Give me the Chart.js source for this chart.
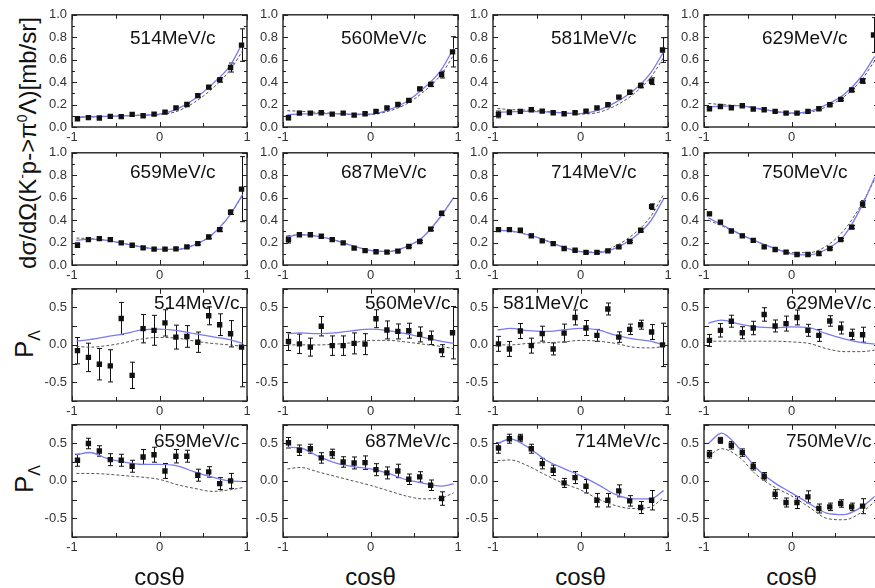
<!DOCTYPE html>
<html>
<head>
<meta charset="utf-8">
<script src="https://cdn.jsdelivr.net/npm/chart.js@4.4.0/dist/chart.umd.min.js"></script>
<style>
  body { margin: 0; width: 875px; height: 588px; overflow: hidden; background: #fff; position: relative;
         font-family: "Liberation Sans", Arial, sans-serif; color: #111; }
  canvas { position: absolute; }
  .vtitle { position: absolute; width: 300px; height: 30px; line-height: 30px; text-align: center;
            font-size: 24px; white-space: nowrap; transform: rotate(-90deg); }
  .vtitle sup { font-size: 14px; vertical-align: 0; position: relative; top: -9px; }
  .ptitle { position: absolute; width: 80px; height: 34px; line-height: 34px; text-align: center;
            font-size: 26px; white-space: nowrap; transform: rotate(-90deg); }
  .ptitle sub { font-size: 16px; vertical-align: 0; position: relative; top: 7px; }
  .xtitle { position: absolute; width: 100px; text-align: center; font-size: 24px; line-height: 28px; }
</style>
</head>
<body>

<div class="vtitle" style="left:-122px; top:128px;">dσ/dΩ(K<sup>-</sup>p-&gt;π<sup>0</sup>Λ)[mb/sr]</div>
<div class="ptitle" style="left:-16px; top:327px;">P<sub>Λ</sub></div>
<div class="ptitle" style="left:-16px; top:462px;">P<sub>Λ</sub></div>

<script>
// bin centres in cos(theta)
const cosBins = [-0.9375, -0.8125, -0.6875, -0.5625, -0.4375, -0.3125, -0.1875, -0.0625,
                 0.0625, 0.1875, 0.3125, 0.4375, 0.5625, 0.6875, 0.8125, 0.9375];
// x grid where the model curves were read
const curveX = [-0.95, -0.8, -0.6, -0.4, -0.2, 0, 0.2, 0.4, 0.6, 0.8, 0.95];
const momenta = ['514MeV/c', '560MeV/c', '581MeV/c', '629MeV/c', '659MeV/c', '687MeV/c', '714MeV/c', '750MeV/c'];

// differential cross section [mb/sr]
const dsigData = [
  [0.074, 0.083, 0.080, 0.095, 0.092, 0.112, 0.100, 0.115, 0.133, 0.170, 0.200, 0.280, 0.355, 0.420, 0.530, 0.730],
  [0.083, 0.124, 0.124, 0.127, 0.115, 0.124, 0.106, 0.118, 0.139, 0.170, 0.200, 0.237, 0.340, 0.380, 0.467, 0.670],
  [0.112, 0.130, 0.139, 0.154, 0.142, 0.127, 0.118, 0.127, 0.142, 0.170, 0.198, 0.266, 0.310, 0.370, 0.408, 0.686],
  [0.163, 0.183, 0.172, 0.189, 0.160, 0.154, 0.139, 0.124, 0.124, 0.139, 0.163, 0.198, 0.246, 0.330, 0.410, 0.820],
  [0.176, 0.226, 0.235, 0.226, 0.197, 0.176, 0.153, 0.141, 0.141, 0.144, 0.162, 0.190, 0.250, 0.315, 0.470, 0.676],
  [0.226, 0.270, 0.270, 0.256, 0.226, 0.197, 0.150, 0.128, 0.118, 0.115, 0.124, 0.165, 0.210, 0.320, 0.460, null],
  [0.315, 0.315, 0.310, 0.260, 0.215, 0.190, 0.147, 0.132, 0.112, 0.112, 0.126, 0.162, 0.210, 0.310, 0.520, null],
  [0.456, 0.382, 0.303, 0.260, 0.220, 0.162, 0.138, 0.115, 0.094, 0.094, 0.103, 0.147, 0.226, 0.338, 0.544, null]
];
const dsigErr = [
  [0.015, 0.01, 0.01, 0.01, 0.01, 0.01, 0.01, 0.01, 0.01, 0.01, 0.012, 0.015, 0.015, 0.02, 0.04, 0.145],
  [0.02, 0.01, 0.01, 0.01, 0.01, 0.01, 0.01, 0.01, 0.01, 0.01, 0.01, 0.012, 0.015, 0.02, 0.03, 0.135],
  [0.03, 0.02, 0.01, 0.01, 0.01, 0.01, 0.01, 0.01, 0.01, 0.01, 0.01, 0.01, 0.012, 0.02, 0.03, 0.11],
  [0.015, 0.01, 0.015, 0.01, 0.01, 0.01, 0.01, 0.01, 0.01, 0.01, 0.01, 0.01, 0.01, 0.015, 0.02, 0.155],
  [0.02, 0.015, 0.01, 0.01, 0.01, 0.01, 0.01, 0.01, 0.01, 0.01, 0.01, 0.01, 0.015, 0.015, 0.02, 0.29],
  [0.03, 0.015, 0.01, 0.015, 0.01, 0.01, 0.01, 0.01, 0.01, 0.01, 0.01, 0.01, 0.01, 0.015, 0.02, null],
  [0.015, 0.01, 0.01, 0.015, 0.01, 0.01, 0.01, 0.01, 0.01, 0.01, 0.01, 0.01, 0.01, 0.015, 0.025, null],
  [0.015, 0.015, 0.01, 0.015, 0.015, 0.01, 0.01, 0.01, 0.01, 0.01, 0.015, 0.01, 0.01, 0.015, 0.03, null]
];
const dsigFit = [
  [0.085, 0.09, 0.095, 0.10, 0.105, 0.115, 0.16, 0.25, 0.38, 0.54, 0.75],
  [0.11, 0.115, 0.12, 0.12, 0.115, 0.115, 0.15, 0.22, 0.34, 0.50, 0.70],
  [0.13, 0.135, 0.14, 0.135, 0.125, 0.12, 0.15, 0.22, 0.32, 0.48, 0.67],
  [0.18, 0.185, 0.19, 0.165, 0.14, 0.125, 0.14, 0.20, 0.29, 0.45, 0.63],
  [0.22, 0.23, 0.22, 0.19, 0.16, 0.14, 0.14, 0.18, 0.27, 0.44, 0.63],
  [0.25, 0.27, 0.255, 0.22, 0.17, 0.13, 0.12, 0.16, 0.25, 0.43, 0.60],
  [0.31, 0.305, 0.27, 0.22, 0.16, 0.12, 0.11, 0.15, 0.24, 0.39, 0.59],
  [0.42, 0.36, 0.28, 0.21, 0.15, 0.10, 0.09, 0.14, 0.26, 0.52, 0.78]
];
const dsigOld = [
  [0.09, 0.09, 0.095, 0.10, 0.105, 0.11, 0.14, 0.22, 0.34, 0.50, 0.68],
  [0.145, 0.14, 0.13, 0.12, 0.11, 0.11, 0.14, 0.20, 0.31, 0.46, 0.64],
  [0.165, 0.155, 0.15, 0.14, 0.125, 0.115, 0.13, 0.19, 0.29, 0.44, 0.62],
  [0.21, 0.20, 0.19, 0.17, 0.14, 0.12, 0.13, 0.18, 0.27, 0.42, 0.59],
  [0.24, 0.235, 0.22, 0.19, 0.16, 0.14, 0.14, 0.18, 0.27, 0.44, 0.62],
  [0.26, 0.27, 0.255, 0.22, 0.17, 0.13, 0.12, 0.16, 0.25, 0.43, 0.60],
  [0.31, 0.30, 0.27, 0.22, 0.16, 0.12, 0.115, 0.17, 0.27, 0.43, 0.63],
  [0.40, 0.35, 0.28, 0.21, 0.15, 0.11, 0.11, 0.17, 0.31, 0.54, 0.76]
];

// Lambda polarisation
const polData = [
  [-0.077, -0.167, -0.258, -0.280, 0.353, -0.407, 0.217, 0.195, 0.294, 0.104, 0.113, 0.036, 0.389, 0.270, 0.149, -0.030],
  [0.045, 0.014, -0.030, 0.250, -0.010, -0.010, 0.020, 0.010, 0.350, 0.200, 0.180, 0.190, 0.140, 0.095, -0.077, 0.163],
  [0.014, -0.054, 0.186, -0.010, 0.150, -0.054, 0.158, 0.367, 0.226, 0.127, 0.480, 0.104, 0.208, 0.270, 0.172, 0.000],
  [0.060, 0.195, 0.317, 0.163, 0.226, 0.407, 0.253, 0.285, 0.367, 0.195, 0.127, 0.320, 0.226, 0.140, 0.136, null],
  [0.276, 0.500, 0.400, 0.284, 0.276, 0.196, 0.320, 0.350, 0.133, 0.330, 0.330, 0.076, 0.120, -0.036, 0.000, null],
  [0.510, 0.410, 0.430, 0.307, 0.364, 0.253, 0.240, 0.244, 0.150, 0.107, 0.133, 0.022, 0.053, -0.058, -0.236, null],
  [0.440, 0.564, 0.573, 0.430, 0.231, 0.142, -0.027, 0.044, -0.071, -0.258, -0.258, -0.133, -0.267, -0.356, -0.258, null],
  [0.356, 0.542, 0.476, 0.378, 0.196, 0.062, -0.178, -0.289, -0.289, -0.213, -0.369, -0.347, -0.302, -0.347, -0.338, null]
];
const polErr = [
  [0.176, 0.19, 0.21, 0.215, 0.215, 0.176, 0.19, 0.2, 0.176, 0.16, 0.145, 0.136, 0.12, 0.145, 0.176, 0.53],
  [0.12, 0.13, 0.12, 0.13, 0.13, 0.13, 0.14, 0.14, 0.12, 0.12, 0.1, 0.1, 0.1, 0.09, 0.08, 0.35],
  [0.1, 0.1, 0.1, 0.1, 0.1, 0.08, 0.12, 0.1, 0.1, 0.08, 0.08, 0.07, 0.07, 0.06, 0.1, 0.29],
  [0.08, 0.09, 0.08, 0.08, 0.09, 0.09, 0.08, 0.1, 0.1, 0.08, 0.08, 0.07, 0.08, 0.07, 0.1, null],
  [0.08, 0.07, 0.07, 0.08, 0.08, 0.08, 0.1, 0.1, 0.1, 0.09, 0.08, 0.08, 0.07, 0.08, 0.1, null],
  [0.07, 0.07, 0.06, 0.07, 0.06, 0.07, 0.08, 0.09, 0.08, 0.08, 0.09, 0.07, 0.07, 0.07, 0.09, null],
  [0.07, 0.06, 0.05, 0.06, 0.07, 0.07, 0.06, 0.08, 0.09, 0.09, 0.09, 0.08, 0.07, 0.08, 0.13, null],
  [0.05, 0.04, 0.05, 0.05, 0.05, 0.05, 0.06, 0.06, 0.08, 0.08, 0.06, 0.05, 0.05, 0.05, 0.1, null]
];
const polFit = [
  [0.05, 0.07, 0.11, 0.15, 0.20, 0.21, 0.19, 0.15, 0.11, 0.07, 0.02],
  [0.15, 0.16, 0.15, 0.16, 0.19, 0.21, 0.19, 0.15, 0.10, 0.05, 0.02],
  [0.20, 0.22, 0.19, 0.18, 0.20, 0.22, 0.20, 0.13, 0.08, 0.05, 0.00],
  [0.29, 0.33, 0.28, 0.24, 0.23, 0.24, 0.23, 0.15, 0.08, 0.03, 0.01],
  [0.35, 0.38, 0.30, 0.25, 0.22, 0.22, 0.20, 0.12, 0.05, 0.00, -0.01],
  [0.45, 0.44, 0.33, 0.24, 0.19, 0.16, 0.10, 0.02, -0.03, -0.07, -0.04],
  [0.50, 0.56, 0.45, 0.28, 0.17, 0.07, -0.05, -0.18, -0.24, -0.24, -0.13],
  [0.50, 0.64, 0.44, 0.17, -0.02, -0.16, -0.30, -0.43, -0.45, -0.35, -0.21]
];
const polOld = [
  [-0.02, -0.03, -0.01, 0.03, 0.08, 0.10, 0.09, 0.05, 0.02, 0.00, -0.02],
  [0.00, 0.00, 0.00, 0.01, 0.03, 0.06, 0.06, 0.04, 0.01, -0.02, -0.05],
  [0.00, 0.00, 0.02, 0.03, 0.04, 0.06, 0.05, 0.02, -0.03, -0.04, -0.02],
  [0.05, 0.05, 0.05, 0.05, 0.05, 0.04, 0.02, -0.05, -0.09, -0.09, -0.07],
  [0.10, 0.10, 0.09, 0.07, 0.05, 0.02, -0.05, -0.10, -0.14, -0.12, -0.09],
  [0.16, 0.18, 0.12, 0.06, 0.00, -0.06, -0.13, -0.20, -0.24, -0.23, -0.16],
  [0.27, 0.28, 0.20, 0.08, -0.03, -0.12, -0.24, -0.33, -0.37, -0.35, -0.22],
  [0.33, 0.43, 0.32, 0.08, -0.08, -0.20, -0.35, -0.50, -0.52, -0.42, -0.28]
];

// page layout (plot frames)
const colLeft = [72, 283, 493, 704];
const rowTop = [14, 152, 288, 424];
const boxW = 175, boxH = 113;
const padL = 45, padT = 12, padR = 12, padB = 24;
const labelDx = [58, 58, 82, 82];
const labelDy = [29, 25, 20, 22];

Chart.defaults.font.family = '"Liberation Sans", Arial, sans-serif';
Chart.defaults.color = '#333';

const panelPlugin = {
  id: 'panel',
  beforeDatasetsDraw(chart) {
    // error bars under the markers
    const ctx = chart.ctx;
    const xs = chart.scales.x, ys = chart.scales.y;
    ctx.save();
    ctx.strokeStyle = '#111';
    ctx.lineWidth = 1;
    ctx.beginPath();
    chart.data.datasets[0].data.forEach(p => {
      const px = Math.round(xs.getPixelForValue(p.x)) + 0.5;
      const y1 = ys.getPixelForValue(p.y + p.err);
      const y2 = ys.getPixelForValue(p.y - p.err);
      ctx.moveTo(px, y1); ctx.lineTo(px, y2);
      ctx.moveTo(px - 2.5, y1); ctx.lineTo(px + 2.5, y1);
      ctx.moveTo(px - 2.5, y2); ctx.lineTo(px + 2.5, y2);
    });
    ctx.stroke();
    ctx.restore();
  },
  afterDraw(chart, args, opts) {
    const ctx = chart.ctx;
    const a = chart.chartArea;
    const xs = chart.scales.x, ys = chart.scales.y;
    ctx.save();
    ctx.strokeStyle = '#222';
    ctx.lineWidth = 1;
    ctx.beginPath();
    // inward ticks on all four sides
    xs.ticks.forEach(t => {
      const len = Number.isInteger(t.value) ? 5 : 4;
      const px = Math.round(xs.getPixelForValue(t.value)) + 0.5;
      ctx.moveTo(px, a.bottom); ctx.lineTo(px, a.bottom - len);
      ctx.moveTo(px, a.top); ctx.lineTo(px, a.top + len);
    });
    const yt = ys.ticks.map(t => t.value);
    yt.forEach((v, i) => {
      const py = Math.round(ys.getPixelForValue(v)) + 0.5;
      ctx.moveTo(a.left, py); ctx.lineTo(a.left + 5, py);
      ctx.moveTo(a.right, py); ctx.lineTo(a.right - 5, py);
      if (opts.minor && i < yt.length - 1) {
        const pm = Math.round(ys.getPixelForValue((v + yt[i + 1]) / 2)) + 0.5;
        ctx.moveTo(a.left, pm); ctx.lineTo(a.left + 3, pm);
        ctx.moveTo(a.right, pm); ctx.lineTo(a.right - 3, pm);
      }
    });
    ctx.stroke();
    ctx.lineWidth = 1.4;
    ctx.strokeRect(a.left, a.top, a.width, a.height);
    // momentum label
    ctx.fillStyle = '#111';
    ctx.font = '19px "Liberation Sans", Arial, sans-serif';
    ctx.textAlign = 'left';
    ctx.textBaseline = 'alphabetic';
    ctx.fillText(opts.label, a.left + opts.dx, a.top + opts.dy);
    ctx.restore();
  }
};

function polTick(v) {
  if (Math.abs(v) < 1e-9) return '0.0';
  return Math.abs(v * 2 - Math.round(v * 2)) < 1e-6 ? v.toFixed(1) : '';
}

function makePanel(row, col) {
  const isPol = row >= 2;
  const k = (row % 2) * 4 + col;
  const vals = isPol ? polData[k] : dsigData[k];
  const errs = isPol ? polErr[k] : dsigErr[k];
  const fit = isPol ? polFit[k] : dsigFit[k];
  const old = isPol ? polOld[k] : dsigOld[k];

  const points = [];
  cosBins.forEach((x, i) => {
    if (vals[i] !== null) points.push({ x: x, y: vals[i], err: errs[i] });
  });
  const fitLine = curveX.map((x, i) => ({ x: x, y: fit[i] }));
  const oldLine = curveX.map((x, i) => ({ x: x, y: old[i] }));

  const canvas = document.createElement('canvas');
  const w = padL + boxW + padR, h = padT + boxH + padB;
  canvas.width = w; canvas.height = h;
  canvas.style.width = w + 'px'; canvas.style.height = h + 'px';
  canvas.style.left = (colLeft[col] - padL) + 'px';
  canvas.style.top = (rowTop[row] - padT) + 'px';
  document.body.appendChild(canvas);

  let dx = labelDx[row];
  if (isPol && k === 2) dx = 10; // 581MeV/c label sits on the left

  return new Chart(canvas.getContext('2d'), {
    type: 'scatter',
    data: {
      datasets: [
        {
          label: 'data',
          data: points,
          pointStyle: 'rect',
          pointRadius: 3.8,
          backgroundColor: '#111',
          borderColor: '#111',
          borderWidth: 0,
          showLine: false
        },
        {
          label: 'fit',
          data: fitLine,
          showLine: true,
          pointRadius: 0,
          borderColor: '#7a7af2',
          borderWidth: 1.3,
          cubicInterpolationMode: 'monotone'
        },
        {
          label: 'previous',
          data: oldLine,
          showLine: true,
          pointRadius: 0,
          borderColor: '#555',
          borderWidth: 1,
          borderDash: [3, 2],
          cubicInterpolationMode: 'monotone'
        }
      ]
    },
    options: {
      responsive: false,
      animation: false,
      layout: { padding: { top: padT, right: padR, left: 0, bottom: 0 } },
      plugins: {
        legend: { display: false },
        tooltip: { enabled: false },
        panel: { label: momenta[k], dx: dx, dy: labelDy[row], minor: !isPol }
      },
      scales: {
        x: {
          type: 'linear', min: -1, max: 1,
          grid: { display: false, drawTicks: false },
          border: { display: false },
          ticks: {
            stepSize: 0.5, autoSkip: false, maxRotation: 0, padding: 3,
            font: { size: 13 },
            callback: v => Number.isInteger(v) ? String(v) : ''
          },
          afterFit: s => { s.height = padB; }
        },
        y: {
          type: 'linear',
          min: isPol ? -0.75 : 0,
          max: isPol ? 0.75 : 1,
          grid: { display: false, drawTicks: false },
          border: { display: false },
          ticks: {
            stepSize: isPol ? 0.25 : 0.2, autoSkip: false, padding: 5,
            font: { size: 13 },
            callback: v => isPol ? polTick(v) : v.toFixed(1)
          },
          afterFit: s => { s.width = padL; }
        }
      }
    },
    plugins: [panelPlugin]
  });
}

for (let r = 0; r < 4; r++) {
  for (let c = 0; c < 4; c++) {
    makePanel(r, c);
  }
}

// x axis titles under the bottom row
colLeft.forEach(left => {
  const d = document.createElement('div');
  d.className = 'xtitle';
  d.textContent = 'cosθ';
  d.style.left = (left + boxW / 2 - 50) + 'px';
  d.style.top = '563px';
  document.body.appendChild(d);
});
</script>
</body>
</html>
